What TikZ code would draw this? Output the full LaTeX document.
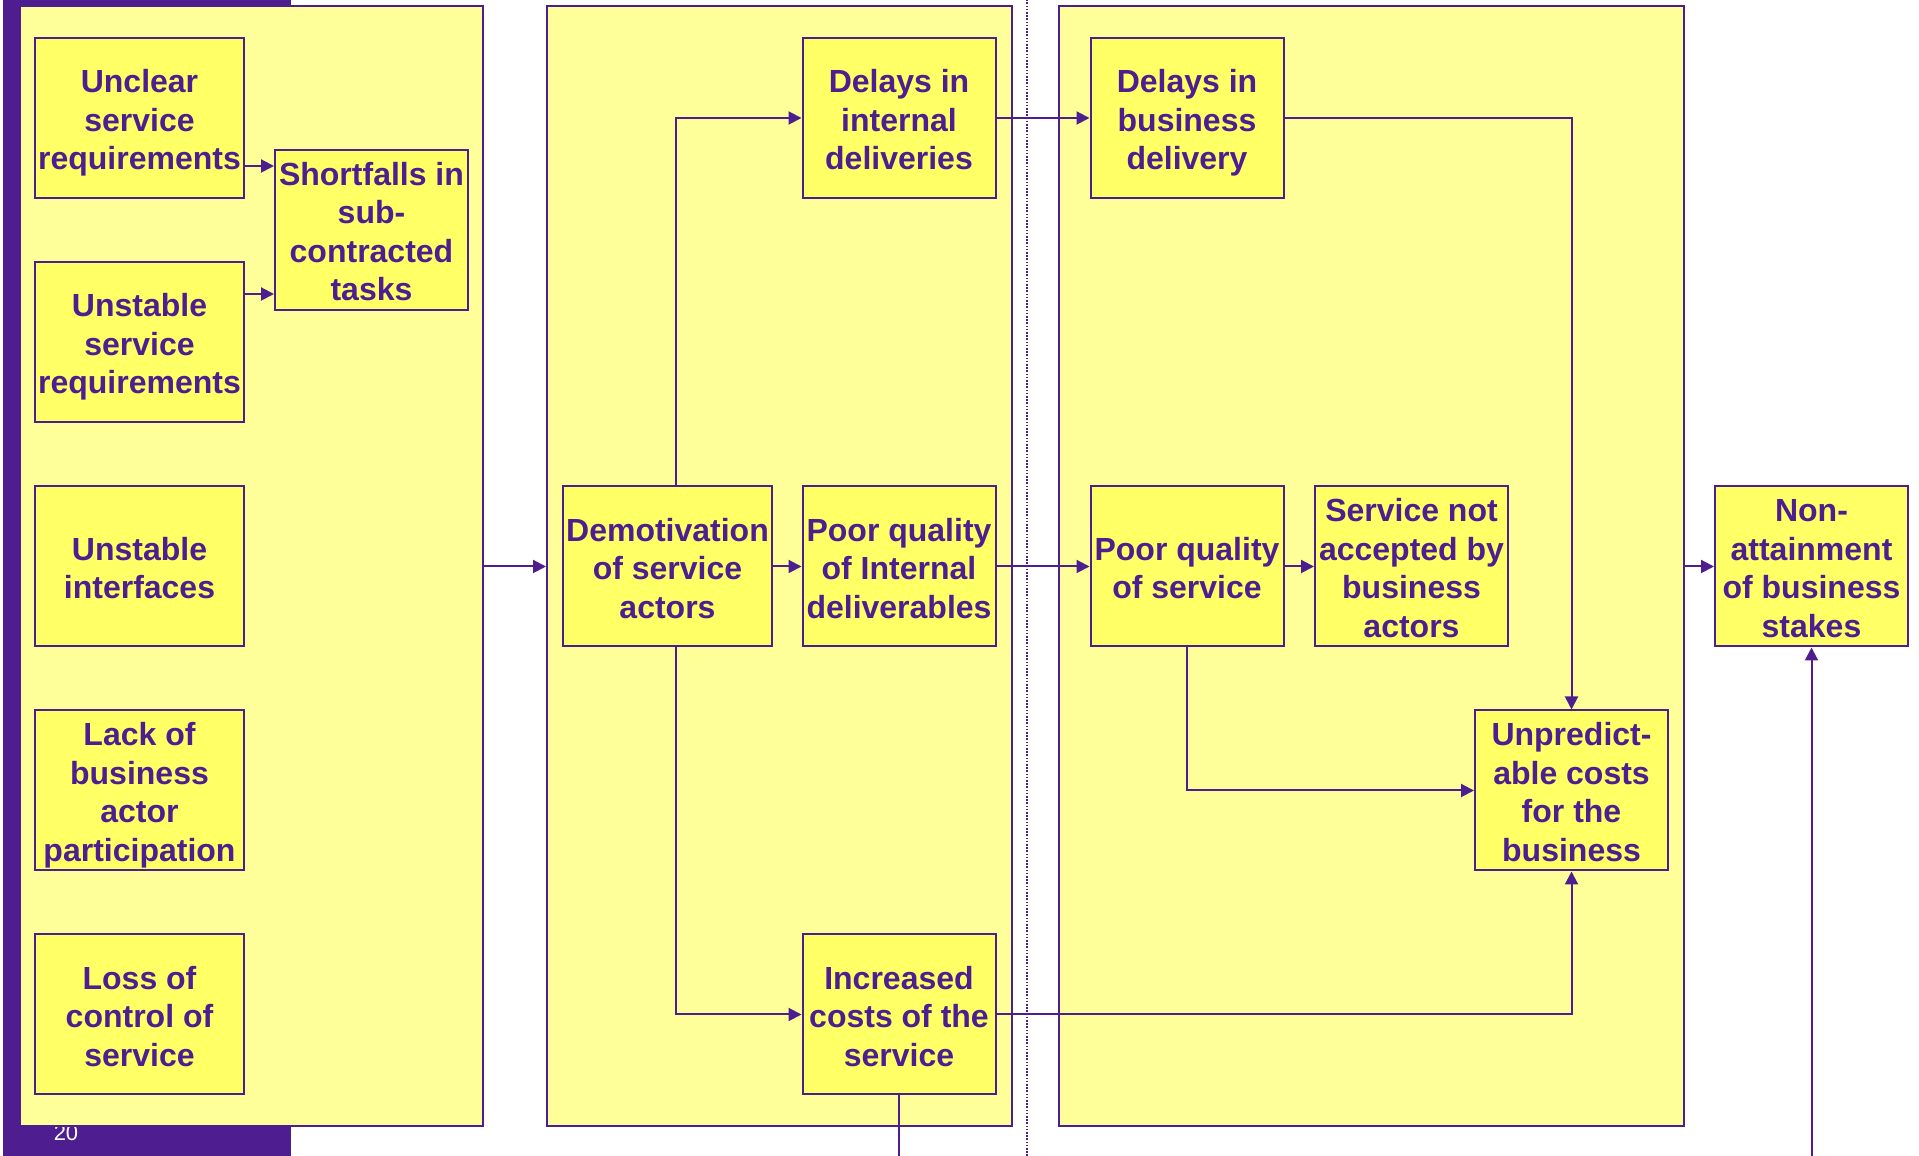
\documentclass[tikz,border=0pt]{standalone}
\usepackage{fontspec}
\setmainfont{Liberation Sans}
\usetikzlibrary{arrows.meta}
\definecolor{lineColor}{RGB}{78,30,145}
\definecolor{panelColor}{RGB}{255,255,153}
\definecolor{boxColor}{RGB}{255,255,102}
\newcommand{\topstrut}{\rule{0pt}{33pt}}
\tikzset{
  panel/.style={draw=lineColor,line width=2pt,fill=panelColor,inner sep=0pt,minimum height=1120pt},
  causebox/.style={draw=lineColor,line width=2pt,fill=boxColor,text=lineColor,
    font=\fontsize{32}{38.5}\selectfont\bfseries,align=center,inner sep=0pt,
    minimum height=160pt,
    execute at end node={\rule[-6.7pt]{0pt}{0pt}}},
  widebox/.style={causebox,minimum width=209pt},
  narrowbox/.style={causebox,minimum width=193pt},
  flow/.style={draw=lineColor,line width=2pt,-{Triangle[length=13pt,width=13pt]}},
  plainline/.style={draw=lineColor,line width=2pt},
}
\begin{document}
\begin{tikzpicture}[x=1pt,y=1pt]
\path[use as bounding box] (0,0) rectangle (1919,1156);
\fill[lineColor] (3,0) rectangle (291,1156);
\node[text=white,font=\fontsize{22}{24}\selectfont,inner sep=0pt] (pagenum) at (66,23) {20};

% panels
\node[panel,minimum width=463pt] (leftpanel) at (251.5,590) {};
\node[panel,minimum width=465pt] (midpanel) at (779.5,590) {};
\node[panel,minimum width=625pt] (rightpanel) at (1371.5,590) {};
\draw[lineColor,line width=1.6pt,dash pattern=on 1.6pt off 1.6pt] (1027,0) -- (1027,1156);

% causes
\node[widebox] (unclear) at (139.5,1038) {\topstrut Unclear\\service\\requirements};
\node[widebox] (unstablereq) at (139.5,814) {\topstrut Unstable\\service\\requirements};
\node[widebox] (interfaces) at (139.5,589.5) {\topstrut Unstable\\interfaces};
\node[widebox] (lackpart) at (139.5,365.5) {\topstrut Lack of\\business\\actor\\participation};
\node[widebox] (losscontrol) at (139.5,141.5) {\topstrut Loss of\\control of\\service};
\node[narrowbox] (shortfalls) at (371.5,926) {\topstrut Shortfalls in\\sub-\\contracted\\tasks};

% internal effects
\node[widebox] (demotiv) at (667.5,589.5) {\topstrut Demotivation\\of service\\actors};
\node[narrowbox] (delaysint) at (899,1038) {\topstrut Delays in\\internal\\deliveries};
\node[narrowbox] (pqint) at (899,589.5) {\topstrut Poor quality\\of Internal\\deliverables};
\node[narrowbox] (inccost) at (899,141.5) {\topstrut Increased\\costs of the\\service};

% business effects
\node[narrowbox] (delaysbus) at (1187,1038) {\topstrut Delays in\\business\\delivery};
\node[narrowbox] (pqserv) at (1187,589.5) {\topstrut Poor quality\\of service};
\node[narrowbox] (notaccepted) at (1411.5,589.5) {\topstrut Service not\\accepted by\\business\\actors};
\node[narrowbox] (unpred) at (1571.5,365.5) {\topstrut Unpredict-\\able costs\\for the\\business};
\node[narrowbox] (nonattain) at (1811.5,589.5) {\topstrut Non-\\attainment\\of business\\stakes};

\coordinate (costsout) at (899,0);
\coordinate (stakesin) at (1811.5,0);

% connectors
\draw[flow] ([yshift=-48pt]unclear.east) -- ([yshift=-48pt]unclear.east -| shortfalls.west);
\draw[flow] ([yshift=48pt]unstablereq.east) -- ([yshift=48pt]unstablereq.east -| shortfalls.west);
\draw[flow] (leftpanel.east |- interfaces) -- (midpanel.west |- interfaces);
\draw[flow] (demotiv) -- (pqint);
\draw[flow] ([xshift=8pt]demotiv.north) |- (delaysint);
\draw[flow] ([xshift=8pt]demotiv.south) |- (inccost);
\draw[flow] (delaysint) -- (delaysbus);
\draw[flow] (pqint) -- (pqserv);
\draw[flow] (pqserv) -- (notaccepted);
\draw[flow] (delaysbus) -| (unpred);
\draw[flow] (pqserv) |- (unpred);
\draw[flow] (inccost) -| (unpred);
\draw[flow] (rightpanel.east |- nonattain) -- (nonattain);
\draw[plainline] (inccost) -- (costsout);
\draw[flow] (stakesin) -- (nonattain);
\end{tikzpicture}
\end{document}
